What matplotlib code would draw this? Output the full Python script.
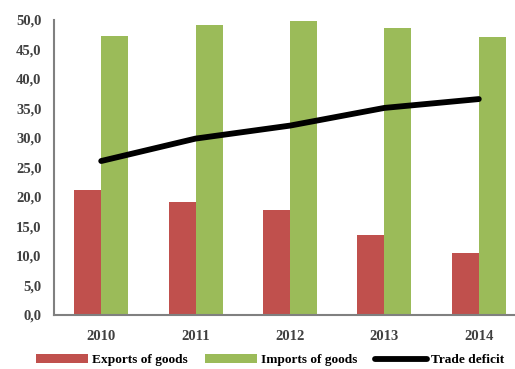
import numpy as np
import matplotlib.pyplot as plt

years = ['2010', '2011', '2012', '2013', '2014']
exports = [21.2, 19.2, 17.8, 13.5, 10.5]
imports = [47.3, 49.1, 49.9, 48.6, 47.1]
deficit = [26.1, 29.9, 32.1, 35.1, 36.6]
yticks = np.arange(0, 50.1, 5)

plt.rcParams['font.family'] = ['Liberation Serif', 'DejaVu Serif']

fig = plt.figure(figsize=(5.15, 3.69), dpi=100)
ax = fig.add_axes([54 / 515, 1 - 315 / 369, 472 / 515, 295 / 369])

x = np.arange(len(years))
w = 0.285
b1 = ax.bar(x - w / 2, exports, w, color='#c0504d', label='Exports of goods')
b2 = ax.bar(x + w / 2, imports, w, color='#9bbb59', label='Imports of goods')
l1, = ax.plot(x, deficit, color='black', linewidth=4.2, solid_capstyle='round',
              label='Trade deficit')

ax.set_xlim(-0.5, 4.5)
ax.set_ylim(0, 50)
ax.set_yticks(yticks)
ax.set_yticklabels([f'{v:.1f}'.replace('.', ',') for v in yticks])
ax.set_xticks(x)
ax.set_xticklabels(years)
ax.tick_params(axis='y', length=0, labelsize=10.5, colors='#404040', pad=9)
ax.tick_params(axis='x', length=0, labelsize=10.5, colors='#404040', pad=11)
for lab in ax.get_xticklabels() + ax.get_yticklabels():
    lab.set_fontweight('bold')

for s in ['top', 'right']:
    ax.spines[s].set_visible(False)
for s in ['left', 'bottom']:
    ax.spines[s].set_color('#808080')
    ax.spines[s].set_linewidth(1.5)

fig.legend([b1, b2, l1], ['Exports of goods', 'Imports of goods', 'Trade deficit'],
           loc='center', bbox_to_anchor=(270 / 515, 1 - 360 / 369), ncol=3,
           frameon=False, handlelength=3.9, handleheight=0.6,
           columnspacing=1.3, handletextpad=0.3, borderaxespad=0,
           prop={'weight': 'bold', 'size': 9.6})

fig.savefig('out.png', dpi=100)
